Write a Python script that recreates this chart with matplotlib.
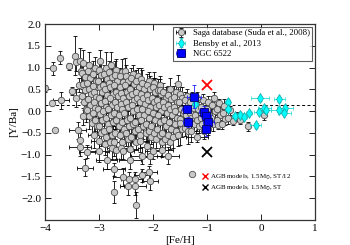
import numpy as np
import matplotlib
matplotlib.use("Agg")
import matplotlib.pyplot as plt
from matplotlib.lines import Line2D

plt.rcParams['font.family'] = ['serif']
plt.rcParams['font.serif'] = ['Liberation Serif', 'DejaVu Serif']
plt.rcParams['mathtext.fontset'] = 'stix'

# ---------------- data ----------------
saga_x = [
 -4.00, -3.85, -3.72, -3.55, -3.88, -3.71, -3.81, -3.51,
 -3.44, -3.43, -3.36, -3.34, -3.40, -3.36, -3.35, -3.38, -3.42,
 -3.29, -3.31, -3.27, -3.30, -3.26, -3.32, -3.28, -3.25, -3.29, -3.23, -3.26,
 -3.18, -3.21, -3.16, -3.22, -3.19, -3.15, -3.20, -3.17, -3.22, -3.18, -3.14,
 -3.08, -3.11, -3.06, -3.12, -3.09, -3.05, -3.10, -3.07, -3.12, -3.08, -3.04, -3.10,
 -2.98, -3.01, -2.96, -3.02, -2.99, -2.95, -3.00, -2.97, -3.03, -2.98, -2.94, -3.01, -2.97, -3.00, -3.01,
 -2.88, -2.91, -2.86, -2.92, -2.89, -2.85, -2.90, -2.87, -2.93, -2.88, -2.84, -2.91, -2.87, -2.90, -2.86,
 -2.78, -2.81, -2.76, -2.82, -2.79, -2.75, -2.80, -2.77, -2.83, -2.78, -2.74, -2.81, -2.77, -2.80, -2.76,
 -2.68, -2.71, -2.66, -2.72, -2.69, -2.65, -2.70, -2.67, -2.73, -2.68, -2.64, -2.71, -2.72, -2.69, -2.72, -2.72,
 -2.58, -2.61, -2.56, -2.62, -2.59, -2.55, -2.60, -2.57, -2.63, -2.58, -2.54, -2.61, -2.57, -2.60,
 -2.52, -2.51, -2.46, -2.52, -2.49, -2.45, -2.50, -2.47, -2.53, -2.48, -2.44, -2.51, -2.47, -2.55, -2.55,
 -2.38, -2.41, -2.36, -2.42, -2.39, -2.35, -2.40, -2.37, -2.43, -2.38, -2.34, -2.41, -2.43, -2.43, -2.44, -2.46,
 -2.28, -2.31, -2.26, -2.32, -2.29, -2.25, -2.30, -2.27, -2.33, -2.28, -2.24, -2.31, -2.33, -2.33, -2.31,
 -2.22, -2.21, -2.16, -2.22, -2.19, -2.15, -2.20, -2.17, -2.23, -2.18, -2.14, -2.24, -2.21, -2.21,
 -2.08, -2.11, -2.06, -2.12, -2.09, -2.05, -2.10, -2.07, -2.13, -2.08, -2.04, -2.11, -2.06, -2.07, -2.06,
 -1.98, -2.01, -1.96, -2.02, -1.99, -1.95, -2.00, -1.97, -2.03, -1.98, -1.94, -2.00,
 -1.88, -1.91, -1.86, -1.92, -1.89, -1.85, -1.90, -1.87, -1.93, -1.88, -1.84, -1.83,
 -1.87, -1.81, -1.76, -1.82, -1.79, -1.75, -1.80, -1.77, -1.83, -1.78,
 -1.68, -1.72, -1.66, -1.72, -1.69, -1.65, -1.70, -1.67, -1.73, -1.69, -1.72,
 -1.58, -1.61, -1.56, -1.62, -1.59, -1.55, -1.60, -1.57, -1.63,
 -1.53, -1.51, -1.46, -1.52, -1.49, -1.45, -1.50, -1.50, -1.47, -1.53,
 -1.38, -1.41, -1.36, -1.42, -1.39, -1.35, -1.40, -1.35,
 -1.28, -1.31, -1.26, -1.32, -1.29, -1.25, -1.30, -1.28,
 -1.18, -1.21, -1.16, -1.22, -1.19, -1.15, -1.19,
 -1.08, -1.11, -1.06, -1.12, -1.09, -1.05,
 -0.98, -1.01, -0.96, -1.02, -0.99,
 -0.88, -0.91, -0.86, -0.92, -0.89,
 -0.78, -0.81, -0.76, -0.82, -0.79,
 -0.68, -0.71, -0.66, -0.72,
 -0.58, -0.61, -0.52, -0.45, -0.39, -0.24, 0.06,
]
saga_y = [
 0.52, 0.98, 1.23, 1.03, 0.18, 0.25, -0.44, 0.46,
 1.27, 1.12, 1.16, 0.93, -0.44, -0.66, -0.82, 0.60, 0.30,
 1.10, 0.88, 0.78, 0.62, 0.48, 0.35, 0.22, 0.05, -0.12, -0.93, -1.30,
 1.05, 0.92, 0.75, 0.65, 0.50, 0.40, 0.28, 0.15, 0.02, -0.12, -0.28,
 1.00, 0.85, 0.70, 0.58, 0.45, 0.33, 0.20, 0.08, -0.05, -0.20, -0.35, -0.55,
 1.16, 0.95, 0.82, 0.70, 0.55, 0.45, 0.30, 0.18, 0.05, -0.07, -0.20, -0.35, -0.50, -0.68, -0.91,
 1.00, 0.86, 0.74, 0.60, 0.50, 0.36, 0.24, 0.10, 0.00, -0.15, -0.30, -0.45, -0.60, -0.75, -1.13,
 1.05, 0.90, 0.78, 0.65, 0.55, 0.40, 0.30, 0.15, 0.05, -0.10, -0.25, -0.40, -0.55, -0.70, -0.85,
 0.95, 0.84, 0.70, 0.60, 0.45, 0.35, 0.20, 0.10, -0.05, -0.20, -0.35, -0.50, -0.72, -0.90, -1.33, -1.85,
 0.90, 0.80, 0.66, 0.55, 0.42, 0.30, 0.16, 0.05, -0.10, -0.25, -0.40, -0.55, -0.70, -0.85,
 0.93, 0.80, 0.70, 0.60, 0.45, 0.35, 0.20, 0.10, -0.05, -0.20, -0.35, -0.50, -0.65, -0.91, -1.51,
 0.85, 0.75, 0.62, 0.50, 0.40, 0.26, 0.14, 0.00, -0.15, -0.30, -0.45, -0.60, -0.87, -1.13, -1.55, -1.73,
 0.80, 0.70, 0.56, 0.45, 0.30, 0.20, 0.05, -0.10, -0.25, -0.40, -0.55, -0.70, -1.55, -1.73, -2.15,
 0.74, 0.64, 0.50, 0.40, 0.30, 0.16, 0.05, -0.10, -0.20, -0.35, -0.50, -0.68, -1.02, -1.47,
 0.70, 0.60, 0.50, 0.36, 0.25, 0.10, 0.00, -0.15, -0.30, -0.45, -0.60, -0.80, -1.02, -1.40, -1.60,
 0.65, 0.55, 0.45, 0.30, 0.20, 0.10, -0.05, -0.20, -0.35, -0.50, -0.65, -0.91,
 0.60, 0.48, 0.40, 0.25, 0.15, 0.00, -0.10, -0.25, -0.40, -0.55, -0.70, -0.90,
 0.48, 0.45, 0.30, 0.20, 0.10, -0.05, -0.20, -0.35, -0.50, -0.65,
 0.50, 0.37, 0.28, 0.15, 0.05, -0.10, -0.25, -0.40, -0.55, -0.72, -1.02,
 0.45, 0.33, 0.20, 0.10, 0.00, -0.15, -0.30, -0.45, -0.60,
 0.63, 0.40, 0.30, 0.20, 0.05, -0.05, -0.18, -0.27, -0.40, -0.55,
 0.35, 0.25, 0.15, 0.00, -0.10, -0.25, -0.38, -0.45,
 0.30, 0.20, 0.08, -0.05, -0.15, -0.30, -0.45, -1.45,
 0.30, 0.15, 0.05, -0.10, -0.20, -0.35, -0.60,
 0.25, 0.10, 0.00, -0.15, -0.30, -0.45,
 0.20, 0.05, -0.10, -0.25, -0.40,
 0.30, 0.15, 0.00, -0.15, -0.30,
 0.18, 0.05, -0.10, -0.20, -0.32,
 0.12, -0.05, -0.18, -0.30,
 0.02, -0.15, -0.22, -0.12, -0.20, -0.35, -0.10,
]
saga_yerr = [
 0.08, 0.15, 0.15, 0.08, 0.05, 0.20, 0.05, 0.10,
 0.45, 0.20, 0.30, 0.25, 0.20, 0.15, 0.20, 0.15, 0.20,
 0.30, 0.20, 0.15, 0.20, 0.25, 0.15, 0.20, 0.30, 0.20, 0.15, 0.20,
 0.30, 0.20, 0.25, 0.15, 0.20, 0.30, 0.15, 0.25, 0.20, 0.30, 0.25,
 0.25, 0.30, 0.15, 0.20, 0.25, 0.15, 0.30, 0.20, 0.15, 0.25, 0.20, 0.30,
 0.25, 0.20, 0.30, 0.15, 0.20, 0.25, 0.30, 0.15, 0.20, 0.25, 0.15, 0.20, 0.30, 0.20, 0.25,
 0.35, 0.20, 0.25, 0.30, 0.15, 0.20, 0.25, 0.30, 0.20, 0.15, 0.25, 0.30, 0.20, 0.25, 0.20,
 0.30, 0.25, 0.20, 0.30, 0.15, 0.25, 0.20, 0.30, 0.25, 0.20, 0.15, 0.30, 0.25, 0.20, 0.25,
 0.25, 0.30, 0.20, 0.25, 0.30, 0.15, 0.20, 0.25, 0.30, 0.20, 0.25, 0.15, 0.30, 0.20, 0.15, 0.25,
 0.30, 0.20, 0.25, 0.15, 0.30, 0.20, 0.25, 0.30, 0.20, 0.15, 0.25, 0.30, 0.20, 0.25,
 0.30, 0.25, 0.20, 0.30, 0.15, 0.25, 0.20, 0.30, 0.25, 0.20, 0.15, 0.30, 0.25, 0.20, 0.20,
 0.20, 0.25, 0.30, 0.15, 0.20, 0.25, 0.30, 0.20, 0.15, 0.25, 0.30, 0.20, 0.25, 0.20, 0.15, 0.20,
 0.20, 0.25, 0.30, 0.20, 0.15, 0.25, 0.30, 0.20, 0.25, 0.15, 0.30, 0.20, 0.15, 0.20, 0.30,
 0.25, 0.30, 0.20, 0.15, 0.25, 0.30, 0.20, 0.25, 0.15, 0.30, 0.20, 0.25, 0.20, 0.15,
 0.20, 0.25, 0.30, 0.20, 0.15, 0.25, 0.30, 0.20, 0.25, 0.30, 0.15, 0.25, 0.20, 0.15, 0.20,
 0.25, 0.20, 0.30, 0.15, 0.25, 0.30, 0.20, 0.25, 0.30, 0.15, 0.20, 0.20,
 0.20, 0.25, 0.20, 0.30, 0.15, 0.25, 0.30, 0.20, 0.25, 0.30, 0.20, 0.15,
 0.25, 0.20, 0.25, 0.30, 0.20, 0.15, 0.25, 0.30, 0.20, 0.25,
 0.25, 0.20, 0.30, 0.15, 0.25, 0.20, 0.30, 0.25, 0.20, 0.15, 0.20,
 0.20, 0.25, 0.30, 0.15, 0.20, 0.25, 0.30, 0.20, 0.25,
 0.20, 0.15, 0.25, 0.20, 0.30, 0.20, 0.25, 0.50, 0.20, 0.25,
 0.15, 0.20, 0.25, 0.15, 0.20, 0.25, 0.20, 0.30,
 0.15, 0.20, 0.15, 0.25, 0.20, 0.15, 0.25, 0.05,
 0.15, 0.20, 0.15, 0.20, 0.25, 0.15, 0.10,
 0.15, 0.20, 0.15, 0.20, 0.15, 0.20,
 0.15, 0.20, 0.15, 0.20, 0.15,
 0.15, 0.20, 0.15, 0.20, 0.15,
 0.10, 0.15, 0.20, 0.15, 0.10,
 0.15, 0.10, 0.15, 0.10,
 0.10, 0.15, 0.10, 0.10, 0.10, 0.10, 0.10,
]
saga_xerr = [
 0, 0, 0, 0.05, 0, 0.15, 0, 0,
 0, 0, 0, 0, 0.15, 0, 0.20, 0, 0,
 0, 0, 0, 0, 0, 0, 0, 0, 0, 0.15, 0.15,
 0, 0, 0, 0, 0, 0, 0, 0, 0, 0, 0,
 0, 0, 0, 0, 0, 0, 0, 0, 0, 0, 0, 0.10,
 0, 0, 0, 0, 0, 0, 0, 0, 0, 0, 0, 0, 0, 0.15, 0.20,
 0, 0, 0, 0, 0, 0, 0, 0, 0, 0, 0, 0, 0, 0, 0.20,
 0, 0, 0, 0, 0, 0, 0, 0, 0, 0, 0, 0, 0, 0, 0.10,
 0, 0, 0, 0, 0, 0, 0, 0, 0, 0, 0, 0, 0.15, 0, 0.20, 0,
 0, 0, 0, 0, 0, 0, 0, 0, 0, 0, 0, 0, 0, 0.15,
 0, 0, 0, 0, 0, 0, 0, 0, 0, 0, 0, 0, 0, 0.20, 0.20,
 0, 0, 0, 0, 0, 0, 0, 0, 0, 0, 0, 0, 0.15, 0.20, 0.15, 0.15,
 0, 0, 0, 0, 0, 0, 0, 0, 0, 0, 0, 0, 0.15, 0.20, 0,
 0, 0, 0, 0, 0, 0, 0, 0, 0, 0, 0, 0.15, 0.20, 0.15,
 0, 0, 0, 0, 0, 0, 0, 0, 0, 0, 0, 0, 0.20, 0.15, 0.15,
 0, 0, 0, 0, 0, 0, 0, 0, 0, 0, 0, 0.15,
 0, 0, 0, 0, 0, 0, 0, 0, 0, 0, 0, 0.20,
 0, 0, 0, 0, 0, 0, 0, 0, 0, 0,
 0, 0, 0, 0, 0, 0, 0, 0, 0, 0, 0.20,
 0, 0, 0, 0, 0, 0, 0, 0, 0,
 0, 0, 0, 0, 0, 0, 0, 0, 0, 0,
 0, 0, 0, 0, 0, 0, 0, 0.15,
 0, 0, 0, 0, 0, 0, 0, 0,
 0, 0, 0, 0, 0, 0, 0.20,
 0, 0, 0, 0, 0, 0,
 0, 0, 0, 0, 0,
 0, 0, 0, 0, 0,
 0, 0, 0, 0, 0,
 0, 0, 0, 0,
 0, 0, 0, 0, 0, 0, 0,
]

bensby_x = [-1.22, -0.62, -0.61, -0.49, -0.39, -0.31, -0.22, -0.10, -0.02, -0.03, 0.06, 0.09, 0.34, 0.34, 0.44, 0.43]
bensby_y = [0.16, 0.22, 0.05, -0.12, -0.08, -0.14, -0.05, -0.33, 0.29, -0.01, 0.07, 0.03, 0.27, 0.02, 0.07, -0.04]
bensby_xerr = [0.05, 0.05, 0.05, 0.05, 0.05, 0.05, 0.05, 0.10, 0.17, 0.10, 0.12, 0.10, 0.10, 0.15, 0.15, 0.12]
bensby_yerr = [0.05, 0.05, 0.05, 0.05, 0.05, 0.05, 0.05, 0.05, 0.05, 0.05, 0.05, 0.05, 0.05, 0.05, 0.05, 0.05]

ngc_x = [-1.24, -1.38, -1.05, -1.02, -1.36, -0.98, -1.02]
ngc_y = [0.33, 0.05, -0.01, -0.12, -0.25, -0.25, -0.41]
ngc_xerr = [0.13, 0.08, 0.10, 0.10, 0.08, 0.10, 0.08]
ngc_yerr = [0.26, 0.10, 0.12, 0.10, 0.12, 0.15, 0.15]

agb_st12 = (-1.0, 0.59)
agb_st = (-1.0, -0.93)
ref_line = 0.15

labels = ["Saga database (Suda et al., 2008)", "Bensby et al., 2013", "NGC 6522"]
agb_labels = [r"AGB models, 1.5M$_{\odot}$, ST/12", r"AGB models, 1.5M$_{\odot}$, ST"]

assert len(saga_x) == len(saga_y) == len(saga_yerr) == len(saga_xerr)

# ---------------- plot ----------------
fig = plt.figure(figsize=(3.5, 2.45), dpi=100)
ax = fig.add_axes([0.129, 0.102, 0.771, 0.8])

h1 = ax.errorbar(saga_x, saga_y, yerr=saga_yerr, xerr=saga_xerr, fmt='o',
                 mfc='#c8c8c8', mec='#505050', mew=0.6, ms=4.6,
                 ecolor='k', elinewidth=0.6, capsize=1.5, capthick=0.6, zorder=2)
h2 = ax.errorbar(bensby_x, bensby_y, yerr=bensby_yerr, xerr=bensby_xerr, fmt='d',
                 mfc='cyan', mec='#10a0a0', mew=0.5, ms=5.5,
                 ecolor='#20d8d8', elinewidth=0.6, capsize=1.5, capthick=0.6, zorder=3)
h3 = ax.errorbar(ngc_x, ngc_y, yerr=ngc_yerr, xerr=ngc_xerr, fmt='s',
                 mfc='#0000ff', mec='#000060', mew=0.6, ms=5.2,
                 ecolor='#2020ff', elinewidth=0.6, capsize=1.5, capthick=0.6, zorder=4)

ax.axhline(ref_line, color='k', ls='--', lw=0.7, dashes=(3, 2.5), zorder=1)

ax.plot([agb_st12[0]], [agb_st12[1]], 'x', color='red', ms=6.5, mew=1.3, zorder=5)
ax.plot([agb_st[0]], [agb_st[1]], 'x', color='black', ms=7.5, mew=1.3, zorder=5)

ax.set_xlim(-4, 1)
ax.set_ylim(-2.5, 2.0)
ax.set_xticks([-4, -3, -2, -1, 0, 1])
ax.set_yticks([-2.0, -1.5, -1.0, -0.5, 0.0, 0.5, 1.0, 1.5, 2.0])
ax.tick_params(direction='in', top=True, right=True, length=4, width=0.6, labelsize=8, pad=3)
for s in ax.spines.values():
    s.set_linewidth(0.9)
    s.set_color('#333333')

ax.set_xlabel("[Fe/H]", fontsize=8, labelpad=2)
ax.set_ylabel("[Y/Ba]", fontsize=8, labelpad=2)

leg1 = ax.legend([h1, h2, h3], labels, loc='upper right', fontsize=6.3, numpoints=1,
                 frameon=True, fancybox=False, borderaxespad=0.3, handlelength=1.2,
                 handletextpad=0.8, borderpad=0.3, labelspacing=0.25)
leg1.get_frame().set_edgecolor('#333333')
leg1.get_frame().set_linewidth(0.8)
ax.add_artist(leg1)

agb_handles = [Line2D([], [], ls='none', marker='x', color='red', ms=4, mew=1.0),
               Line2D([], [], ls='none', marker='x', color='black', ms=4, mew=1.0)]
ax.legend(agb_handles, agb_labels, loc='upper left', bbox_to_anchor=(0.57, 0.265),
          fontsize=5, frameon=False, handlelength=0.6, handletextpad=0.4,
          labelspacing=0.3, borderpad=0.1)

fig.savefig("out.png", dpi=100)
